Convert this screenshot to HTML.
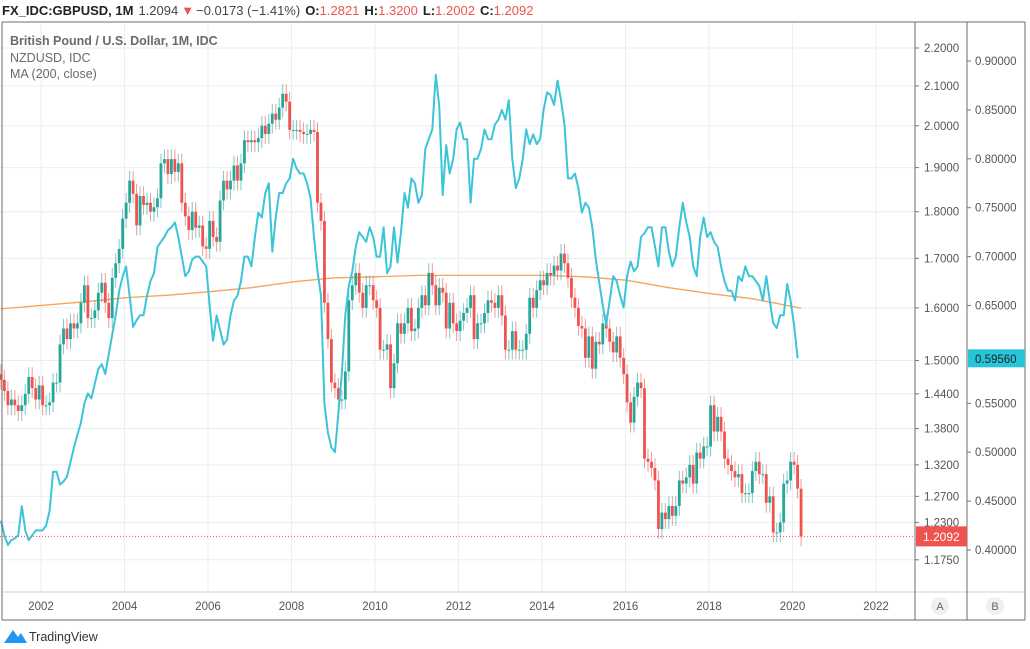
<!DOCTYPE html>
<html><head><meta charset="utf-8"><style>
body{margin:0;background:#fff;font-family:"Liberation Sans",sans-serif;}
#wrap{position:relative;width:1030px;height:649px;overflow:hidden;}
</style></head><body>
<div id="wrap">
<svg id="svg" width="1030" height="649" xmlns="http://www.w3.org/2000/svg">
<text x="2" y="15" font-size="13" font-family="Liberation Sans, sans-serif"><tspan font-weight="bold" fill="#222">FX_IDC:GBPUSD, 1M</tspan><tspan fill="#444" dx="5">1.2094</tspan><tspan fill="#ef5350" dx="3">▼</tspan><tspan fill="#444" dx="2">−0.0173 (−1.41%)</tspan><tspan font-weight="bold" fill="#222" dx="5">O:</tspan><tspan fill="#ef5350">1.2821</tspan><tspan font-weight="bold" fill="#222" dx="5">H:</tspan><tspan fill="#ef5350">1.3200</tspan><tspan font-weight="bold" fill="#222" dx="5">L:</tspan><tspan fill="#ef5350">1.2002</tspan><tspan font-weight="bold" fill="#222" dx="5">C:</tspan><tspan fill="#ef5350">1.2092</tspan></text>
<g id="grid"></g>
<g id="ma"></g>
<g id="candles"></g>
<g id="nzd"></g>
<g id="axes"></g>
<text x="10" y="45" font-size="12.5" font-weight="bold" fill="#6a6a6a">British Pound / U.S. Dollar, 1M, IDC</text>
<text x="10" y="62" font-size="12.5" fill="#6a6a6a">NZDUSD, IDC</text>
<text x="10" y="78" font-size="12.5" fill="#6a6a6a">MA (200, close)</text>
</svg>
</div>
<script>
const gbpClose=[
1.465,1.445,1.42,1.43,1.42,1.41,1.42,1.44,1.47,1.45,1.43,1.455,
1.42,1.42,1.425,1.46,1.46,1.53,1.56,1.54,1.57,1.56,1.57,1.61,
1.645,1.58,1.58,1.595,1.63,1.65,1.61,1.58,1.66,1.69,1.72,1.785,
1.82,1.87,1.84,1.77,1.835,1.815,1.82,1.80,1.81,1.83,1.91,1.92,
1.885,1.92,1.89,1.91,1.82,1.79,1.76,1.80,1.765,1.77,1.725,1.72,
1.78,1.745,1.735,1.825,1.87,1.85,1.87,1.905,1.87,1.91,1.965,1.96,
1.965,1.96,1.97,2.0,1.98,2.005,2.03,2.015,2.045,2.08,2.06,1.99,
1.99,1.99,1.985,1.98,1.98,1.99,1.985,1.82,1.78,1.61,1.54,1.46,
1.45,1.43,1.43,1.48,1.615,1.645,1.67,1.63,1.60,1.645,1.645,1.615,
1.60,1.52,1.52,1.53,1.45,1.495,1.57,1.55,1.57,1.60,1.555,1.56,
1.60,1.625,1.605,1.67,1.645,1.605,1.64,1.63,1.56,1.61,1.57,1.555,
1.575,1.59,1.60,1.625,1.54,1.57,1.57,1.59,1.615,1.61,1.60,1.625,
1.585,1.52,1.52,1.555,1.52,1.52,1.52,1.55,1.62,1.60,1.635,1.655,
1.645,1.67,1.665,1.685,1.675,1.71,1.69,1.66,1.62,1.60,1.565,1.56,
1.505,1.545,1.485,1.535,1.53,1.57,1.56,1.535,1.515,1.545,1.505,1.475,
1.425,1.39,1.435,1.46,1.45,1.33,1.325,1.315,1.295,1.22,1.245,1.235,
1.255,1.24,1.255,1.295,1.29,1.30,1.32,1.29,1.34,1.33,1.35,1.35,
1.42,1.375,1.40,1.375,1.33,1.32,1.31,1.30,1.305,1.275,1.275,1.275,
1.31,1.325,1.305,1.305,1.26,1.27,1.215,1.215,1.23,1.29,1.295,1.325,
1.32,1.282,1.2092];
const gbpFirstOpen=1.475;
const nzdClose=[
.43,.415,.405,.41,.412,.415,.445,.42,.41,.415,.42,.42,
.42,.425,.44,.48,.48,.467,.47,.475,.49,.505,.518,.53,
.55,.56,.555,.57,.585,.59,.58,.60,.62,.64,.665,.68,
.69,.66,.628,.635,.64,.64,.66,.675,.683,.71,.715,.72,
.727,.73,.735,.72,.70,.68,.685,.697,.70,.70,.695,.69,
.65,.614,.64,.625,.61,.615,.64,.655,.66,.675,.70,.70,
.69,.72,.745,.74,.765,.775,.705,.74,.765,.765,.775,.78,
.80,.79,.785,.785,.775,.76,.72,.685,.66,.55,.52,.505,
.50,.54,.58,.64,.67,.685,.71,.725,.72,.715,.73,.72,
.70,.70,.73,.683,.69,.73,.694,.725,.765,.75,.78,.775,
.755,.763,.81,.82,.83,.886,.853,.763,.814,.785,.80,.83,
.837,.82,.82,.755,.80,.80,.81,.83,.82,.82,.835,.84,
.85,.84,.86,.80,.77,.78,.80,.83,.815,.825,.815,.82,
.85,.868,.865,.855,.88,.86,.835,.78,.78,.785,.77,.745,
.755,.75,.73,.697,.673,.65,.63,.655,.68,.675,.66,.648,
.68,.695,.685,.69,.72,.724,.73,.73,.71,.69,.73,.73,
.705,.69,.70,.73,.755,.735,.72,.69,.68,.72,.74,.72,
.725,.715,.71,.69,.675,.665,.665,.655,.68,.675,.69,.68,
.68,.675,.67,.655,.68,.655,.632,.627,.64,.64,.672,.655,
.63,.596];
const maIdx=[0,12,24,36,48,60,72,84,96,108,120,132,144,156,168,180,192,204,216,228,230];
const maVal=[1.598,1.605,1.612,1.62,1.625,1.632,1.64,1.652,1.66,1.662,1.665,1.665,1.665,1.665,1.662,1.655,1.64,1.628,1.618,1.602,1.599];
const gbpTicks=[2.2,2.1,2.0,1.9,1.8,1.7,1.6,1.5,1.44,1.38,1.32,1.27,1.23,1.175];
const nzdTicks=[0.9,0.85,0.8,0.75,0.7,0.65,0.55,0.5,0.45,0.4];
const years=[2002,2004,2006,2008,2010,2012,2014,2016,2018,2020,2022];

const NS="http://www.w3.org/2000/svg";
const PL=0,PR=915,PT=22,PB=592;
const xIdx=i=>0.9+3.479*i;
const xYear=y=>41+(y-2002)*41.75;
const yG=v=>48+(Math.log(2.2)-Math.log(v))*816;
const yN=v=>61+(0.9-v)*978;
function mk(tag,parent,attrs){const e=document.createElementNS(NS,tag);for(const k in attrs)e.setAttribute(k,attrs[k]);document.getElementById(parent).appendChild(e);return e;}

gbpTicks.forEach(t=>{const l=mk('line','grid',{x1:PL,x2:PR,y1:yG(t),y2:yG(t),stroke:'#e8eef2','stroke-width':1});

});
years.forEach(y=>{const l=mk('line','grid',{x1:xYear(y),x2:xYear(y),y1:PT,y2:PB,stroke:'#e8eef2','stroke-width':1});

});

{let d='';maIdx.forEach((i,k)=>{d+=(k?'L':'M')+xIdx(i).toFixed(1)+','+yG(maVal[k]).toFixed(1);});
const p=mk('path','ma',{d:d,fill:'none',stroke:'#f8a35a','stroke-width':1.3});

}

gbpClose.forEach((c,i)=>{const o=i?gbpClose[i-1]:gbpFirstOpen;const up=c>=o;const col=up?'#26a69a':'#ef5350';
const hi=Math.max(o,c)*1.012,lo=Math.min(o,c)*0.988;const x=xIdx(i);
const w=mk('line','candles',{x1:x,x2:x,y1:yG(hi),y2:yG(lo),stroke:col,'stroke-width':1,opacity:0.6});


const top=yG(Math.max(o,c)),bot=yG(Math.min(o,c));
const r=mk('rect','candles',{x:x-1.4,y:top,width:2.8,height:Math.max(1,bot-top),fill:col});

});

{let d='';nzdClose.forEach((v,i)=>{d+=(i?'L':'M')+xIdx(i).toFixed(1)+','+yN(v).toFixed(1);});
const p=mk('path','nzd',{d:d,fill:'none',stroke:'#3cc4d9','stroke-width':2,'stroke-linejoin':'round'});

}

{const last=gbpClose[gbpClose.length-1];const l=mk('line','axes',{x1:0,x2:PR,y1:yG(last),y2:yG(last),stroke:'#ef5350','stroke-width':1,'stroke-dasharray':'1,2'});

}

[[2,PT,1025,PT],[2,PT,2,620],[PR,PT,PR,620],[967,PT,967,620],[1025,PT,1025,620],[2,PB,1025,PB],[2,620,1025,620]].forEach(a=>{
const l=mk('line','axes',{x1:a[0],y1:a[1],x2:a[2],y2:a[3],stroke:'#555','stroke-width':1,opacity:a[1]==PB&&a[3]==PB?0.25:0.85});

});

gbpTicks.forEach(t=>{const y=yG(t);
const tk=mk('line','axes',{x1:PR,x2:PR+4,y1:y,y2:y,stroke:'#777'});


const tx=mk('text','axes',{x:PR+9,y:y+4,'font-size':11.5,fill:'#555'});tx.textContent=t.toFixed(4);

});
nzdTicks.forEach(t=>{const y=yN(t);
const tk=mk('line','axes',{x1:967,x2:971,y1:y,y2:y,stroke:'#777'});


const tx=mk('text','axes',{x:975,y:y+4,'font-size':11.5,fill:'#555'});tx.textContent=t.toFixed(5);

});
years.forEach(y=>{const x=xYear(y);
const tx=mk('text','axes',{x:x,y:610,'font-size':11.5,fill:'#555','text-anchor':'middle'});tx.textContent=y;

});

{const last=gbpClose[gbpClose.length-1];const y=yG(last);
const r=mk('rect','axes',{x:PR+1,y:y-10,width:51,height:20,fill:'#ef5350'});


const t=mk('text','axes',{x:PR+8,y:y+4.5,'font-size':12,fill:'#fff'});t.textContent=last.toFixed(4);


const lv=nzdClose[nzdClose.length-1];const y2=yN(lv);
const r2=mk('rect','axes',{x:968,y:y2-9,width:57,height:18,fill:'#26c6da'});


const t2=mk('text','axes',{x:975,y:y2+4.5,'font-size':11.5,fill:'#222'});t2.textContent='0.59560';

}

[['A',940],['B',995]].forEach(b=>{
const c=mk('circle','axes',{cx:b[1],cy:606,r:9,fill:'#eef0f3'});


const t=mk('text','axes',{x:b[1],y:610,'font-size':11,fill:'#666','text-anchor':'middle'});t.textContent=b[0];

});

{const p=mk('path','axes',{d:'M4,643 L13,630 L18,637 L21,633 L27,643 Z',fill:'#2196f3'});


const t=mk('text','axes',{x:29,y:641,'font-size':12.5,fill:'#333'});t.textContent='TradingView';

}
</script>
</body></html>
